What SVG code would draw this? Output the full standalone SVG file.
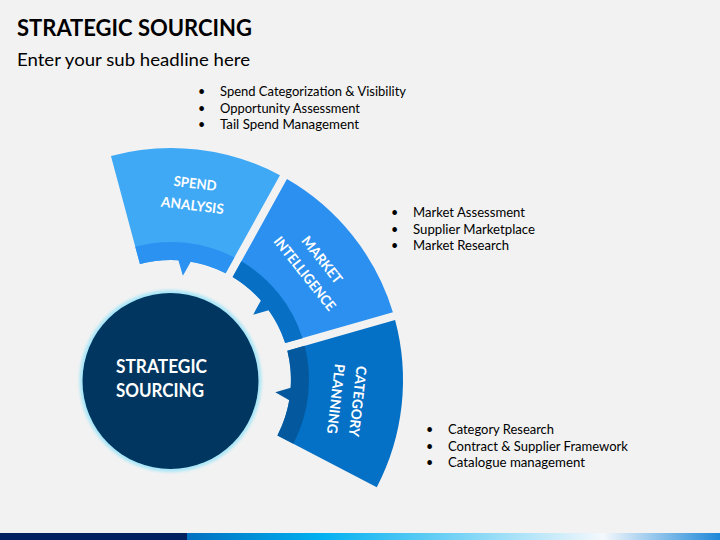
<svg xmlns="http://www.w3.org/2000/svg" width="720" height="540" viewBox="0 0 720 540">
  <defs>
    <linearGradient id="barGrad" x1="187" y1="0" x2="720" y2="0" gradientUnits="userSpaceOnUse">
      <stop offset="0" stop-color="#0070c0"/>
      <stop offset="0.25" stop-color="#00b0f0"/>
      <stop offset="0.78" stop-color="#f4f8fc"/>
      <stop offset="1" stop-color="#1e88d8"/>
    </linearGradient>
    <filter id="glow" x="-20%" y="-20%" width="140%" height="140%">
      <feGaussianBlur stdDeviation="1.8"/>
    </filter>
    <style>
      .title { font-family: Lato, "Liberation Sans", sans-serif; font-weight: bold; fill: #000; }
      .sub { font-family: Lato, "Liberation Sans", sans-serif; fill: #000; }
      .bul { font-family: Lato, "Liberation Sans", sans-serif; font-size: 12.5px; fill: #000; }
      .seg { font-family: Lato, "Liberation Sans", sans-serif; font-weight: bold; font-size: 14px; fill: #fff; }
      .ctr { font-family: Lato, "Liberation Sans", sans-serif; font-weight: bold; font-size: 18px; fill: #fff; }
    </style>
  </defs>

  <rect x="0" y="0" width="720" height="540" fill="#f2f2f2"/>

  <!-- Header -->
  <g id="header">
    <text class="title" x="17" y="36" font-size="22.5" textLength="235" lengthAdjust="spacingAndGlyphs">STRATEGIC SOURCING</text>
    <text class="sub" x="17" y="66" font-size="18" textLength="233" lengthAdjust="spacingAndGlyphs">Enter your sub headline here</text>
  </g>

  <!-- Bottom bar -->
  <g id="footer-bar">
    <rect x="0" y="533" width="187" height="7" fill="#002060"/>
    <rect x="187" y="533" width="533" height="7" fill="url(#barGrad)"/>
  </g>

  <!-- Segment 1: Spend Analysis -->
  <g id="spend-analysis">
    <path d="M110.95,155.90 A232,232 0 0 1 279.96,175.18 L225.64,273.17 A120,120 0 0 0 139.94,264.09 Z" fill="#3fa9f5"/>
    <path d="M135.28,246.70 A138,138 0 0 1 234.37,257.42 L225.64,273.17 A120,120 0 0 0 190.81,261.65 L182.89,275.68 L178.33,260.22 A120,120 0 0 0 139.94,264.09 Z" fill="#2b92f2"/>
    <g transform="rotate(7 171 380)">
      <text class="seg" x="171" y="187" text-anchor="middle" textLength="43" lengthAdjust="spacingAndGlyphs">SPEND</text>
      <text class="seg" x="171" y="209" text-anchor="middle" textLength="63" lengthAdjust="spacingAndGlyphs">ANALYSIS</text>
    </g>
  </g>

  <!-- Segment 2: Market Intelligence -->
  <g id="market-intelligence">
    <path d="M286.96,179.06 A232,232 0 0 1 392.89,312.21 L285.19,343.10 A120,120 0 0 0 232.64,277.05 Z" fill="#2b90f0"/>
    <path d="M241.37,261.30 A138,138 0 0 1 302.50,338.13 L285.19,343.10 A120,120 0 0 0 268.69,310.32 L253.17,314.64 L260.88,300.49 A120,120 0 0 0 232.64,277.05 Z" fill="#0870c4"/>
    <g transform="rotate(51.5 171 380)">
      <text class="seg" x="171" y="192" text-anchor="middle" textLength="56" lengthAdjust="spacingAndGlyphs">MARKET</text>
      <text class="seg" x="171" y="214" text-anchor="middle" textLength="90" lengthAdjust="spacingAndGlyphs">INTELLIGENCE</text>
    </g>
  </g>

  <!-- Segment 3: Category Planning -->
  <g id="category-planning">
    <path d="M395.09,319.91 A232,232 0 0 1 376.79,487.13 L277.44,435.41 A120,120 0 0 0 287.39,350.80 Z" fill="#0571c6"/>
    <path d="M304.70,345.83 A138,138 0 0 1 293.41,443.72 L277.44,435.41 A120,120 0 0 0 289.28,400.22 L275.28,392.25 L290.75,387.74 A120,120 0 0 0 287.39,350.80 Z" fill="#04599e"/>
    <g transform="rotate(96.5 171 380)">
      <text class="seg" x="171" y="197" text-anchor="middle" textLength="71" lengthAdjust="spacingAndGlyphs">CATEGORY</text>
      <text class="seg" x="171" y="219" text-anchor="middle" textLength="70" lengthAdjust="spacingAndGlyphs">PLANNING</text>
    </g>
  </g>

  <!-- Center -->
  <g id="center">
    <circle cx="170.5" cy="381" r="91" fill="#a8e6f8" filter="url(#glow)"/>
    <circle cx="170.5" cy="381" r="88" fill="#00365f"/>
    <text class="ctr" x="116" y="373" textLength="91" lengthAdjust="spacingAndGlyphs">STRATEGIC</text>
    <text class="ctr" x="116" y="397" textLength="88" lengthAdjust="spacingAndGlyphs">SOURCING</text>
  </g>

  <!-- Bullet lists -->
  <g id="spend-analysis-bullets">
    <text class="bul" x="198" y="96">•</text>
    <text class="bul" x="220" y="96" textLength="186" lengthAdjust="spacingAndGlyphs">Spend Categorization &amp; Visibility</text>
    <text class="bul" x="198" y="112.5">•</text>
    <text class="bul" x="220" y="112.5" textLength="140" lengthAdjust="spacingAndGlyphs">Opportunity Assessment</text>
    <text class="bul" x="198" y="129">•</text>
    <text class="bul" x="220" y="129" textLength="139" lengthAdjust="spacingAndGlyphs">Tail Spend Management</text>
  </g>
  <g id="market-intelligence-bullets">
    <text class="bul" x="391" y="217">•</text>
    <text class="bul" x="413" y="217" textLength="112" lengthAdjust="spacingAndGlyphs">Market Assessment</text>
    <text class="bul" x="391" y="233.5">•</text>
    <text class="bul" x="413" y="233.5" textLength="122" lengthAdjust="spacingAndGlyphs">Supplier Marketplace</text>
    <text class="bul" x="391" y="250">•</text>
    <text class="bul" x="413" y="250" textLength="96" lengthAdjust="spacingAndGlyphs">Market Research</text>
  </g>
  <g id="category-planning-bullets">
    <text class="bul" x="426" y="434">•</text>
    <text class="bul" x="448" y="434" textLength="106" lengthAdjust="spacingAndGlyphs">Category Research</text>
    <text class="bul" x="426" y="450.5">•</text>
    <text class="bul" x="448" y="450.5" textLength="180" lengthAdjust="spacingAndGlyphs">Contract &amp; Supplier Framework</text>
    <text class="bul" x="426" y="467">•</text>
    <text class="bul" x="448" y="467" textLength="137" lengthAdjust="spacingAndGlyphs">Catalogue management</text>
  </g>

  <g id="connectors"/>
</svg>
